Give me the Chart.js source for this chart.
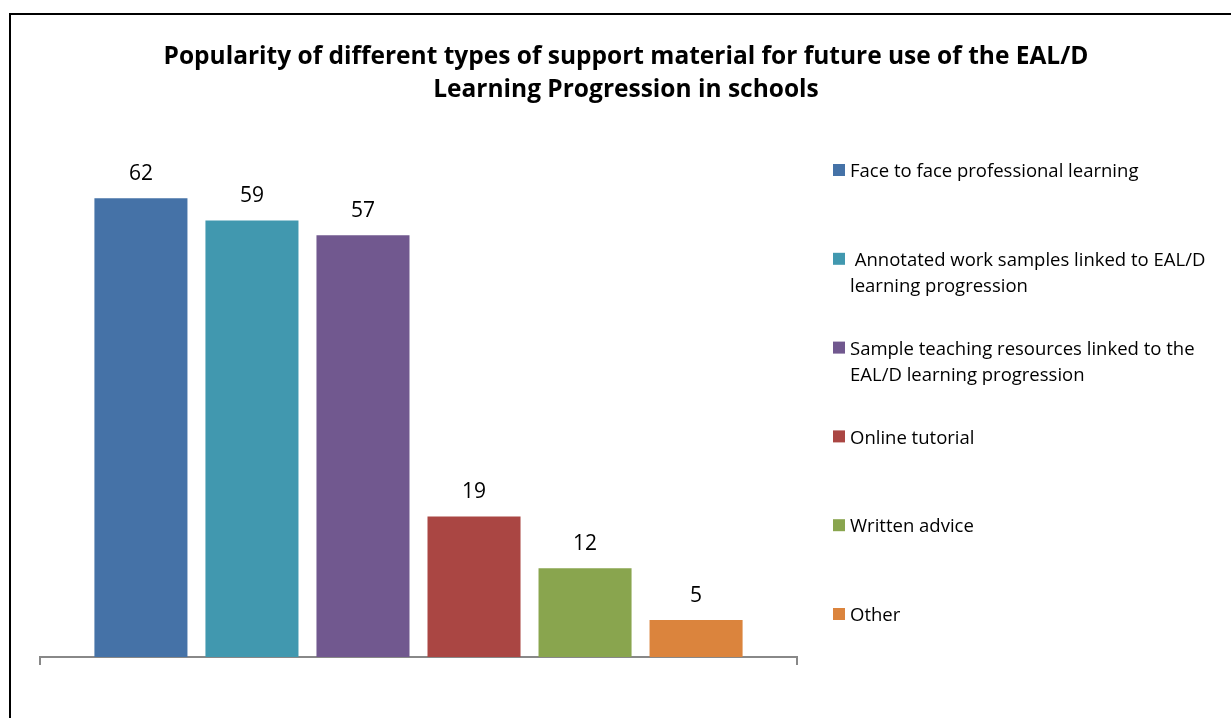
<!DOCTYPE html>
<html lang="en">
<head>
    <meta charset="UTF-8">
    <title>Support material popularity</title>
    <script src="https://cdn.jsdelivr.net/npm/chart.js"></script>
    <style>
        html, body { margin: 0; padding: 0; background: #fff; overflow: hidden; }
        #wrap { position: relative; width: 1231px; height: 718px; }
        #frame { position: absolute; left: 9px; top: 13px; width: 1260px; height: 760px; border: 2px solid #000; box-sizing: border-box; pointer-events: none; }
        canvas { position: absolute; left: 0; top: 0; }
    </style>
</head>
<body>
    <div id="wrap">
        <canvas id="supportChart" width="1231" height="718"></canvas>
        <div id="frame"></div>
    </div>

    <script>
        // Survey results: one bar per type of support material
        const titleLines = [
            'Popularity of different types of support material for future use of the EAL/D',
            'Learning Progression in schools'
        ];
        const seriesNames = [
            ['Face to face professional learning'],
            [' Annotated work samples linked to EAL/D', 'learning progression'],
            ['Sample teaching resources linked to the', 'EAL/D learning progression'],
            ['Online tutorial'],
            ['Written advice'],
            ['Other']
        ];
        const seriesValues = [62, 59, 57, 19, 12, 5];
        const seriesColors = ['#4572A7', '#4198AF', '#71588F', '#AA4643', '#89A54E', '#DB843D'];

        const FONT = '"Open Sans", sans-serif';

        // Title, value labels and legend are painted straight onto the canvas
        const decorations = {
            id: 'decorations',
            afterDatasetsDraw(chart) {
                const ctx = chart.ctx;
                ctx.save();
                ctx.fillStyle = '#000';
                ctx.textAlign = 'center';
                ctx.textBaseline = 'middle';

                ctx.font = 'bold 24.5px ' + FONT;
                titleLines.forEach((line, i) => ctx.fillText(line, 626, 57 + i * 33));

                ctx.font = '21px ' + FONT;
                chart.data.datasets.forEach((ds, i) => {
                    const bar = chart.getDatasetMeta(i).data[0];
                    ctx.fillText(String(ds.data[0]), bar.x, bar.y - 24);
                });

                ctx.textAlign = 'left';
                ctx.font = '18.5px ' + FONT;
                chart.data.datasets.forEach((ds, i) => {
                    const y = 170 + i * 88.8;
                    ctx.fillStyle = ds.backgroundColor;
                    ctx.fillRect(833, y - 6, 12, 12);
                    ctx.fillStyle = '#000';
                    seriesNames[i].forEach((line, j) => ctx.fillText(line, 850, y + 2 + j * 26));
                });
                ctx.restore();
            }
        };

        new Chart(document.getElementById('supportChart'), {
            type: 'bar',
            data: {
                labels: [''],
                datasets: seriesValues.map((v, i) => ({
                    label: seriesNames[i].join(' ').trim(),
                    data: [v],
                    backgroundColor: seriesColors[i],
                    barPercentage: 0.838,
                    categoryPercentage: 0.88
                }))
            },
            options: {
                responsive: false,
                animation: false,
                layout: { padding: { left: 40, right: 434, top: 139, bottom: 53 } },
                plugins: {
                    legend: { display: false },
                    title: { display: false },
                    tooltip: { enabled: false }
                },
                scales: {
                    x: {
                        ticks: { display: false },
                        grid: { drawOnChartArea: false, tickLength: 8, color: '#888', lineWidth: 2 },
                        border: { color: '#888', width: 2 }
                    },
                    y: {
                        display: false,
                        min: 0,
                        max: 70
                    }
                }
            },
            plugins: [decorations]
        });
    </script>
</body>
</html>
